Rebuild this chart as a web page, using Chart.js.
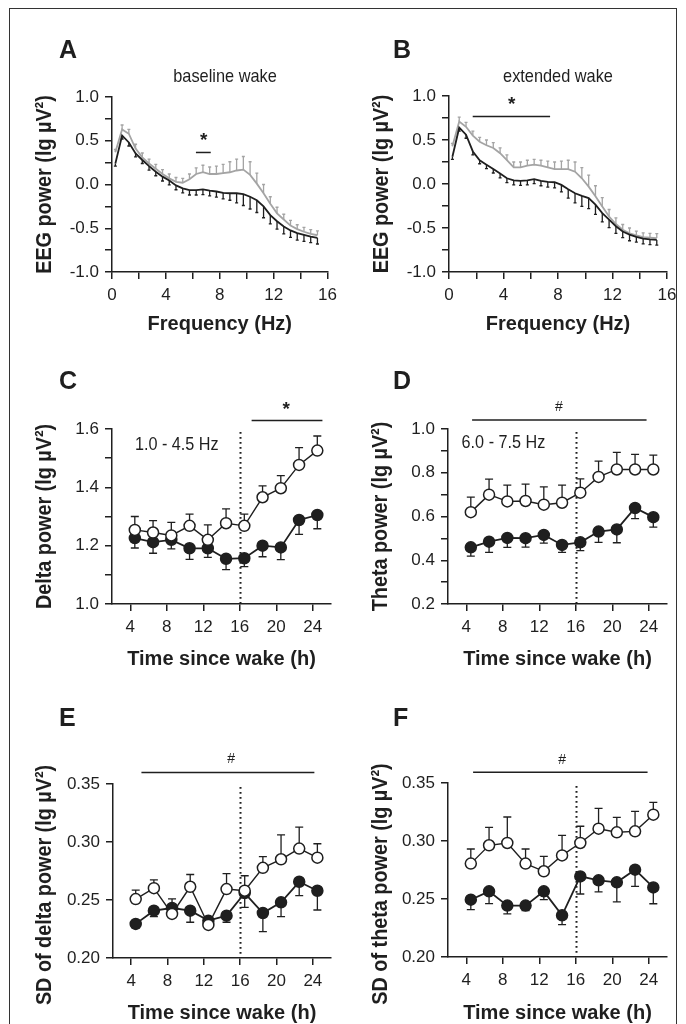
<!DOCTYPE html>
<html>
<head>
<meta charset="utf-8">
<script src="https://cdn.jsdelivr.net/npm/chart.js@4.4.0/dist/chart.umd.min.js"></script>
<style>
html,body{margin:0;padding:0;background:#fff;}
#wrap{position:relative;width:686px;height:1024px;overflow:hidden;background:#fff;}
#frame{position:absolute;left:9px;top:8px;width:668px;height:1100px;border:1.5px solid #333;box-sizing:border-box;}
canvas{position:absolute;}
</style>
</head>
<body>
<div id="wrap">
<div id="frame"></div>
<canvas id="cA"></canvas><canvas id="cB"></canvas>
<canvas id="cC"></canvas><canvas id="cD"></canvas>
<canvas id="cE"></canvas><canvas id="cF"></canvas>
</div>
<script>
// ---------------- DATA ----------------
const freqHz = [0.25,0.75,1.25,1.75,2.25,2.75,3.25,3.75,4.25,4.75,5.25,5.75,6.25,6.75,7.25,7.75,8.25,8.75,9.25,9.75,10.25,10.75,11.25,11.75,12.25,12.75,13.25,13.75,14.25,14.75,15.25];
// Panel A: baseline wake
const baseBlack    = [0.24,0.56,0.48,0.355,0.28,0.21,0.145,0.09,0.045,-0.01,-0.045,-0.065,-0.065,-0.055,-0.07,-0.08,-0.095,-0.10,-0.10,-0.11,-0.14,-0.18,-0.25,-0.35,-0.42,-0.48,-0.525,-0.555,-0.575,-0.595,-0.61];
const baseBlackErr = [0.03,0.04,0.04,0.04,0.04,0.045,0.045,0.05,0.05,0.05,0.05,0.055,0.055,0.06,0.06,0.065,0.07,0.08,0.11,0.13,0.14,0.14,0.13,0.10,0.09,0.085,0.08,0.08,0.075,0.07,0.07];
const baseGray     = [0.37,0.63,0.58,0.41,0.31,0.24,0.18,0.12,0.07,0.03,0.02,0.06,0.12,0.14,0.12,0.12,0.13,0.14,0.16,0.17,0.11,0.01,-0.10,-0.22,-0.33,-0.40,-0.47,-0.51,-0.54,-0.565,-0.58];
const baseGrayErr  = [0.03,0.05,0.05,0.05,0.05,0.05,0.05,0.05,0.05,0.05,0.05,0.06,0.07,0.08,0.08,0.09,0.10,0.12,0.13,0.15,0.15,0.12,0.10,0.08,0.07,0.06,0.06,0.05,0.05,0.05,0.05];
// Panel B: extended wake
const extBlack     = [0.31,0.64,0.56,0.37,0.27,0.22,0.17,0.12,0.065,0.04,0.035,0.04,0.055,0.035,0.025,0.02,-0.01,-0.06,-0.105,-0.135,-0.16,-0.235,-0.33,-0.405,-0.48,-0.54,-0.575,-0.60,-0.62,-0.63,-0.635];
const extBlackErr  = [0.03,0.04,0.04,0.04,0.04,0.045,0.045,0.05,0.05,0.05,0.05,0.05,0.05,0.055,0.06,0.065,0.08,0.10,0.11,0.12,0.12,0.11,0.10,0.09,0.08,0.07,0.07,0.06,0.06,0.06,0.06];
const extGray      = [0.43,0.71,0.65,0.55,0.48,0.44,0.41,0.35,0.27,0.19,0.19,0.21,0.22,0.21,0.19,0.17,0.17,0.17,0.14,0.065,-0.03,-0.14,-0.255,-0.37,-0.455,-0.52,-0.56,-0.585,-0.605,-0.61,-0.615];
const extGrayErr   = [0.03,0.05,0.05,0.05,0.05,0.06,0.06,0.06,0.06,0.06,0.06,0.06,0.06,0.06,0.07,0.08,0.09,0.10,0.11,0.12,0.13,0.12,0.10,0.08,0.07,0.06,0.06,0.05,0.05,0.05,0.05];

const hours = [4.5,6.5,8.5,10.5,12.5,14.5,16.5,18.5,20.5,22.5,24.5];
// Panel C: delta power
const deltaOpen      = [1.254,1.245,1.235,1.268,1.220,1.277,1.268,1.366,1.397,1.477,1.526];
const deltaOpenErr   = [0.046,0.041,0.045,0.040,0.051,0.049,0.040,0.039,0.043,0.059,0.050];
const deltaFilled    = [1.226,1.212,1.220,1.191,1.191,1.155,1.157,1.200,1.194,1.288,1.305];
const deltaFilledErr = [0.034,0.038,0.031,0.038,0.031,0.037,0.029,0.038,0.042,0.049,0.047];
// Panel D: theta power
const thetaOpen      = [0.620,0.700,0.669,0.671,0.654,0.663,0.709,0.781,0.815,0.815,0.815];
const thetaOpenErr   = [0.069,0.071,0.074,0.077,0.081,0.080,0.063,0.072,0.078,0.069,0.066];
const thetaFilled    = [0.459,0.485,0.502,0.501,0.516,0.470,0.482,0.531,0.541,0.639,0.597];
const thetaFilledErr = [0.040,0.049,0.043,0.041,0.038,0.034,0.038,0.049,0.061,0.049,0.046];
// Panel E: SD of delta power
const sdDeltaOpen      = [0.2508,0.2602,0.2380,0.2614,0.2285,0.2594,0.2580,0.2777,0.2851,0.2943,0.2865];
const sdDeltaOpenErr   = [0.0077,0.0071,0.0129,0.0106,0.0040,0.0134,0.0129,0.0097,0.0210,0.0186,0.0120];
const sdDeltaFilled    = [0.2294,0.2408,0.2431,0.2408,0.2322,0.2365,0.2560,0.2388,0.2480,0.2657,0.2580];
const sdDeltaFilledErr = [0.0037,0.0051,0.0080,0.0100,0.0030,0.0057,0.0123,0.0160,0.0123,0.0120,0.0166];
// Panel F: SD of theta power
const sdThetaOpen      = [0.2805,0.2963,0.2983,0.2805,0.2739,0.2876,0.2983,0.3106,0.3075,0.3083,0.3227];
const sdThetaOpenErr   = [0.0126,0.0155,0.0224,0.0126,0.0129,0.0172,0.0144,0.0175,0.0129,0.0172,0.0106];
const sdThetaFilled    = [0.2494,0.2566,0.2443,0.2443,0.2566,0.2359,0.2695,0.2661,0.2644,0.2753,0.2600];
const sdThetaFilledErr = [0.0086,0.0106,0.0072,0.0043,0.0072,0.0080,0.0152,0.0100,0.0169,0.0144,0.0141];

// Tick values and labels
const freqTicks       = [0,2,4,6,8,10,12,14,16];
const freqTickLabels  = ['0','','4','','8','','12','','16'];
const powerTicks      = [-1,-0.75,-0.5,-0.25,0,0.25,0.5,0.75,1];
const powerTickLabels = ['-1.0','','-0.5','','0.0','','0.5','','1.0'];
const hourTicks       = [4,8,12,16,20,24];
const hourTickLabels  = ['4','8','12','16','20','24'];
const deltaTicks      = [1.0,1.1,1.2,1.3,1.4,1.5,1.6];
const deltaTickLabels = ['1.0','','1.2','','1.4','','1.6'];
const thetaTicks      = [0.2,0.3,0.4,0.5,0.6,0.7,0.8,0.9,1.0];
const thetaTickLabels = ['0.2','','0.4','','0.6','','0.8','','1.0'];
const sdTicks         = [0.20,0.25,0.30,0.35];
const sdTickLabels    = ['0.20','0.25','0.30','0.35'];

// Significance bars [from, to, level] and labels
const sigA = [6.23, 7.33, 0.366], sigLabelA = ['*', 6.8, 0.50];
const sigB = [1.74, 7.42, 0.766], sigLabelB = ['*', 4.6, 0.90];
const sigC = [17.3, 25.06, 1.629], sigLabelC = ['*', 21.1, 1.665];
const sigD = [4.64, 23.76, 1.041], sigLabelD = ['#', 14.15, 1.10];
const sigE = [5.13, 24.17, 0.360], sigLabelE = ['#', 15.0, 0.371];
const sigF = [4.75, 23.87, 0.3592], sigLabelF = ['#', 14.5, 0.370];

// ---------------- STYLE / LAYOUT ----------------
const FONT = '"Liberation Sans", Arial, Helvetica, sans-serif';
const INK = '#1f1f1f';
const GRAY = '#a4a4a4';

const pts = (xs, ys) => xs.map((v, i) => ({x: v, y: ys[i]}));

function spectrumSets(black, blackErr, gray, grayErr) {
  return [
    {data: pts(freqHz, black), showLine: true, pointRadius: 0, borderColor: INK, borderWidth: 1.8, order: 0,
     errValues: blackErr, errSign: -1, errColor: INK, errWidth: 1.3, capHalf: 1.5},
    {data: pts(freqHz, gray), showLine: true, pointRadius: 0, borderColor: GRAY, borderWidth: 1.8, order: 1,
     errValues: grayErr, errSign: 1, errColor: GRAY, errWidth: 1.3, capHalf: 1.5}
  ];
}
function timeSets(open, openErr, filled, filledErr) {
  return [
    {data: pts(hours, open), showLine: true, borderColor: INK, borderWidth: 1.4, pointRadius: 5.5,
     pointBackgroundColor: '#fff', pointBorderColor: INK, pointBorderWidth: 1.5, order: 0,
     errValues: openErr, errSign: 1, errColor: INK, errWidth: 1.3, capHalf: 4},
    {data: pts(hours, filled), showLine: true, borderColor: INK, borderWidth: 1.8, pointRadius: 5.5,
     pointBackgroundColor: INK, pointBorderColor: INK, pointBorderWidth: 1.5, order: 1,
     errValues: filledErr, errSign: -1, errColor: INK, errWidth: 1.3, capHalf: 4}
  ];
}

const panels = [
  {id: 'cA', box: [0, 20, 343, 330], area: [112, 97, 331, 272],
   x: {min: 0, max: 16, ticks: freqTicks, labels: freqTickLabels},
   y: {min: -1, max: 1, ticks: powerTicks, labels: powerTickLabels},
   datasets: spectrumSets(baseBlack, baseBlackErr, baseGray, baseGrayErr),
   letter: ['A', 59, 58], sub: ['baseline wake', 225, 82],
   xTitle: ['Frequency (Hz)', 330], yTitle: ['EEG power (lg µV²)', 51, 0],
   sig: sigA, sigLabel: sigLabelA, sigFont: 'bold 19px', dotted: null, note: null},
  {id: 'cB', box: [343, 20, 343, 330], area: [449, 96, 667, 272],
   x: {min: 0, max: 16, ticks: freqTicks, labels: freqTickLabels},
   y: {min: -1, max: 1, ticks: powerTicks, labels: powerTickLabels},
   datasets: spectrumSets(extBlack, extBlackErr, extGray, extGrayErr),
   letter: ['B', 393, 58], sub: ['extended wake', 558, 82],
   xTitle: ['Frequency (Hz)', 330], yTitle: ['EEG power (lg µV²)', 388, 0],
   sig: sigB, sigLabel: sigLabelB, sigFont: 'bold 19px', dotted: null, note: null},
  {id: 'cC', box: [0, 355, 343, 335], area: [112, 429, 331, 604],
   x: {min: 2, max: 26, ticks: hourTicks, labels: hourTickLabels},
   y: {min: 1.0, max: 1.6, ticks: deltaTicks, labels: deltaTickLabels},
   datasets: timeSets(deltaOpen, deltaOpenErr, deltaFilled, deltaFilledErr),
   letter: ['C', 59, 389], sub: null,
   xTitle: ['Time since wake (h)', 665], yTitle: ['Delta power (lg µV²)', 51, 0],
   sig: sigC, sigLabel: sigLabelC, sigFont: 'bold 19px', dotted: 16, note: ['1.0 - 4.5 Hz', 9.1, 1.545]},
  {id: 'cD', box: [343, 355, 343, 335], area: [448, 429, 667, 604],
   x: {min: 2, max: 26, ticks: hourTicks, labels: hourTickLabels},
   y: {min: 0.2, max: 1.0, ticks: thetaTicks, labels: thetaTickLabels},
   datasets: timeSets(thetaOpen, thetaOpenErr, thetaFilled, thetaFilledErr),
   letter: ['D', 393, 389], sub: null,
   xTitle: ['Time since wake (h)', 665], yTitle: ['Theta power (lg µV²)', 387, 0],
   sig: sigD, sigLabel: sigLabelD, sigFont: '14px', dotted: 16, note: ['6.0 - 7.5 Hz', 8.08, 0.937]},
  {id: 'cE', box: [0, 690, 343, 334], area: [113, 784, 331, 958],
   x: {min: 2, max: 26, ticks: hourTicks, labels: hourTickLabels},
   y: {min: 0.2, max: 0.35, ticks: sdTicks, labels: sdTickLabels},
   datasets: timeSets(sdDeltaOpen, sdDeltaOpenErr, sdDeltaFilled, sdDeltaFilledErr),
   letter: ['E', 59, 726], sub: null,
   xTitle: ['Time since wake (h)', 1019], yTitle: ['SD of delta power (lg µV²)', 51, 14],
   sig: sigE, sigLabel: sigLabelE, sigFont: '14px', dotted: 16, note: null},
  {id: 'cF', box: [343, 690, 343, 334], area: [448, 783, 667, 957],
   x: {min: 2, max: 26, ticks: hourTicks, labels: hourTickLabels},
   y: {min: 0.2, max: 0.35, ticks: sdTicks, labels: sdTickLabels},
   datasets: timeSets(sdThetaOpen, sdThetaOpenErr, sdThetaFilled, sdThetaFilledErr),
   letter: ['F', 393, 726], sub: null,
   xTitle: ['Time since wake (h)', 1019], yTitle: ['SD of theta power (lg µV²)', 387, 14],
   sig: sigF, sigLabel: sigLabelF, sigFont: '14px', dotted: 16, note: null}
];

// draw text with optional condensing along the text direction
function putText(ctx, txt, x, y, font, align, sx) {
  ctx.save();
  ctx.font = font + ' ' + FONT; ctx.textAlign = align;
  ctx.translate(x, y); ctx.scale(sx, 1);
  ctx.fillText(txt, 0, 0);
  ctx.restore();
}

function extras(p) {
  const bl = p.box[0], bt = p.box[1];
  return {
    id: 'extras',
    beforeDatasetsDraw(chart) {
      const ctx = chart.ctx, a = chart.chartArea, xs = chart.scales.x, ys = chart.scales.y;
      ctx.save();
      if (p.dotted !== null) {
        const px = Math.round(xs.getPixelForValue(p.dotted)) + 0.5;
        ctx.strokeStyle = INK; ctx.lineWidth = 2; ctx.setLineDash([1.7, 3.3]);
        ctx.beginPath(); ctx.moveTo(px, a.top + 3); ctx.lineTo(px, a.bottom); ctx.stroke();
        ctx.setLineDash([]);
      }
      chart.data.datasets.forEach(ds => {
        if (!ds.errValues) return;
        ctx.strokeStyle = ds.errColor; ctx.lineWidth = ds.errWidth;
        ds.data.forEach((pt, i) => {
          const px = xs.getPixelForValue(pt.x);
          const p0 = ys.getPixelForValue(pt.y);
          const p1 = ys.getPixelForValue(pt.y + ds.errSign * ds.errValues[i]);
          ctx.beginPath();
          ctx.moveTo(px, p0); ctx.lineTo(px, p1);
          ctx.moveTo(px - ds.capHalf, p1); ctx.lineTo(px + ds.capHalf, p1);
          ctx.stroke();
        });
      });
      ctx.restore();
    },
    afterDraw(chart) {
      const ctx = chart.ctx, a = chart.chartArea, xs = chart.scales.x, ys = chart.scales.y;
      ctx.save();
      ctx.fillStyle = INK; ctx.strokeStyle = INK;
      if (p.sig) {
        const y = ys.getPixelForValue(p.sig[2]);
        ctx.lineWidth = 1.5;
        ctx.beginPath(); ctx.moveTo(xs.getPixelForValue(p.sig[0]), y); ctx.lineTo(xs.getPixelForValue(p.sig[1]), y); ctx.stroke();
        ctx.font = p.sigFont + ' ' + FONT; ctx.textAlign = 'center'; ctx.textBaseline = 'middle';
        ctx.fillText(p.sigLabel[0], xs.getPixelForValue(p.sigLabel[1]), ys.getPixelForValue(p.sigLabel[2]));
      }
      if (p.note) {
        ctx.textBaseline = 'middle';
        putText(ctx, p.note[0], xs.getPixelForValue(p.note[1]), ys.getPixelForValue(p.note[2]), '18px', 'center', 0.9);
      }
      ctx.textBaseline = 'alphabetic';
      putText(ctx, p.letter[0], p.letter[1] - bl, p.letter[2] - bt, 'bold 25px', 'left', 1);
      if (p.sub) putText(ctx, p.sub[0], p.sub[1] - bl, p.sub[2] - bt, '19px', 'center', 0.86);
      putText(ctx, p.xTitle[0], (a.left + a.right) / 2, p.xTitle[1] - bt, 'bold 20px', 'center', 1);
      ctx.save();
      ctx.translate(p.yTitle[1] - bl, (a.top + a.bottom) / 2 + p.yTitle[2]);
      ctx.rotate(-Math.PI / 2);
      putText(ctx, p.yTitle[0], 0, 0, 'bold 22px', 'center', 0.9);
      ctx.restore();
      ctx.restore();
    }
  };
}

function axisOpts(ax, isX, size) {
  return {
    type: 'linear', min: ax.min, max: ax.max, bounds: 'data',
    afterBuildTicks: s => { s.ticks = ax.ticks.map(v => ({value: v})); },
    afterFit: s => { if (isX) s.height = size; else s.width = size; },
    ticks: {autoSkip: false, maxRotation: 0, minRotation: 0, padding: 6, color: INK,
            font: {family: FONT, size: 17}, callback: (v, i) => ax.labels[i]},
    grid: {display: true, drawOnChartArea: false, drawTicks: true, tickLength: 7, color: INK, lineWidth: 1.5},
    border: {display: true, color: INK, width: 1.5}
  };
}

function buildPanel(p) {
  const cv = document.getElementById(p.id);
  const [bl, bt, bw, bh] = p.box;
  const [al, at, ar, ab] = p.area;
  cv.width = bw; cv.height = bh;
  cv.style.left = bl + 'px'; cv.style.top = bt + 'px';
  cv.style.width = bw + 'px'; cv.style.height = bh + 'px';
  new Chart(cv, {
    type: 'scatter',
    data: {datasets: p.datasets},
    options: {
      responsive: false, maintainAspectRatio: false, animation: false, devicePixelRatio: 1, events: [],
      layout: {padding: {left: 0, top: at - bt, right: (bl + bw) - ar, bottom: 0}},
      plugins: {legend: {display: false}, tooltip: {enabled: false}},
      scales: {x: axisOpts(p.x, true, (bt + bh) - ab), y: axisOpts(p.y, false, al - bl)}
    },
    plugins: [extras(p)]
  });
}
panels.forEach(buildPanel);
</script>
</body>
</html>
